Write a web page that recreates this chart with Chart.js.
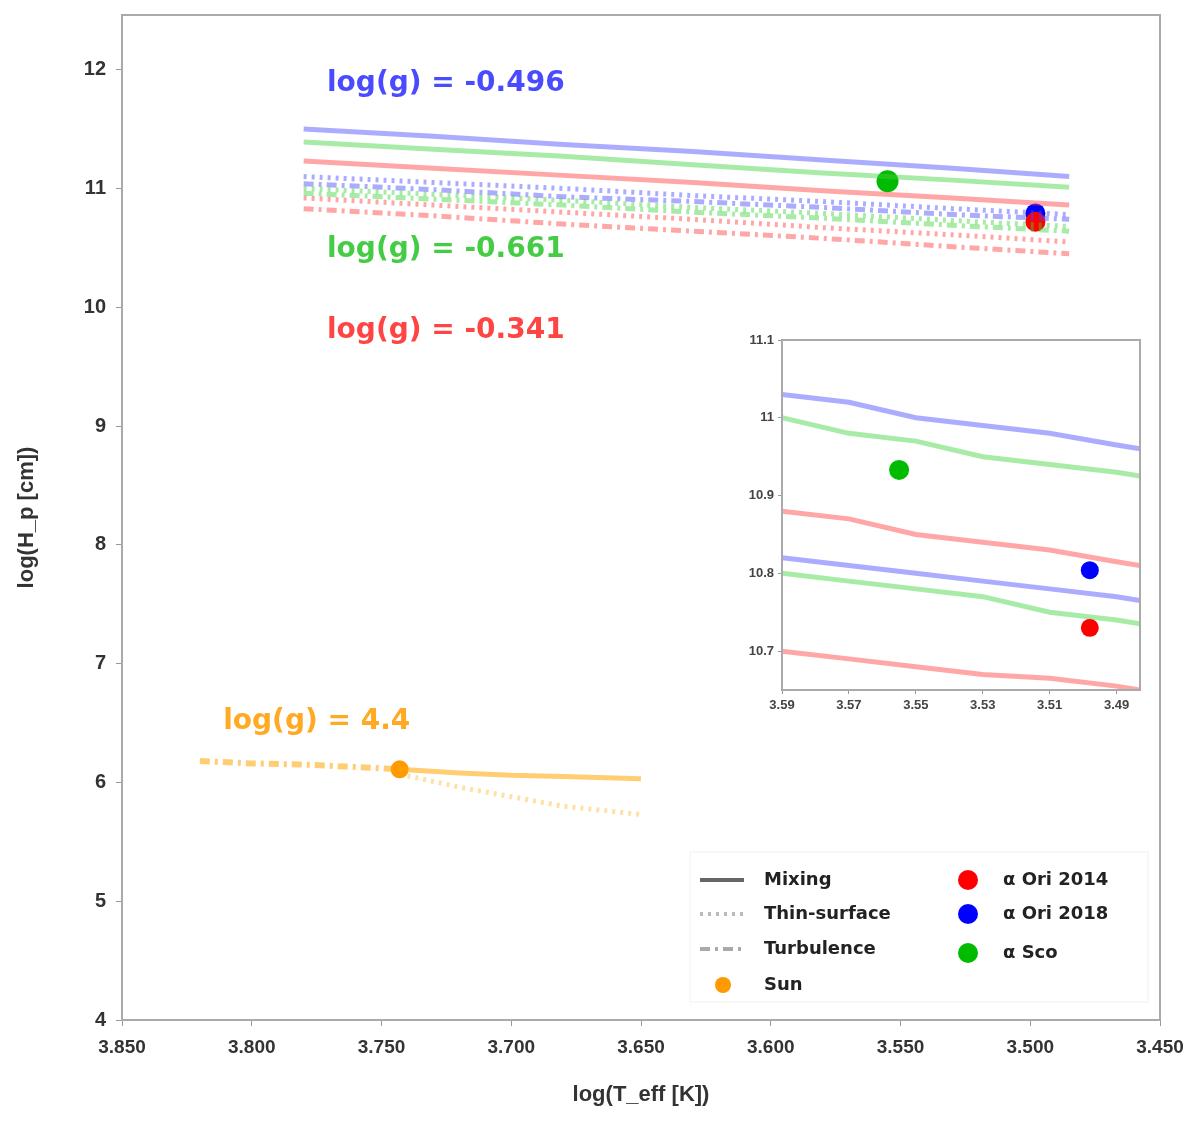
<!DOCTYPE html>
<html>
<head>
<meta charset="utf-8">
<script src="https://cdn.jsdelivr.net/npm/chart.js@4/dist/chart.umd.min.js"></script>
<style>
  body { margin: 0; background: #fff; }
  #wrap { position: relative; width: 1200px; height: 1128px; }
  #main { position: absolute; left: 0; top: 0; }
  #inset { position: absolute; left: 720px; top: 330px; }
</style>
</head>
<body>
<div id="wrap">
  <canvas id="main" width="1200" height="1128"></canvas>
  <canvas id="inset" width="430" height="395"></canvas>
</div>
<script>
// main panel data
const xTicks = [3.85, 3.80, 3.75, 3.70, 3.65, 3.60, 3.55, 3.50, 3.45];
const yTicks = [4, 5, 6, 7, 8, 9, 10, 11, 12];

const superX = [3.78, 3.73, 3.68, 3.63, 3.58, 3.53, 3.485];
const blueMixing = [11.50, 11.44, 11.37, 11.31, 11.24, 11.17, 11.10];
const blueThin = [11.10, 11.05, 11.00, 10.94, 10.89, 10.83, 10.78];
const blueTurb = [11.04, 10.99, 10.93, 10.89, 10.84, 10.78, 10.74];
const greenMixing = [11.39, 11.33, 11.27, 11.20, 11.13, 11.07, 11.01];
const greenThin = [11.00, 10.95, 10.90, 10.84, 10.79, 10.73, 10.68];
const greenTurb = [10.96, 10.91, 10.86, 10.80, 10.75, 10.69, 10.64];
const redMixing = [11.23, 11.17, 11.11, 11.05, 10.98, 10.92, 10.86];
const redThin = [10.92, 10.86, 10.80, 10.74, 10.67, 10.61, 10.55];
const redTurb = [10.83, 10.77, 10.70, 10.64, 10.58, 10.51, 10.45];

const sunLeftX = [3.82, 3.80, 3.78, 3.76, 3.743];
const sunTurb = [6.18, 6.16, 6.15, 6.13, 6.11];
const sunRightX = [3.743, 3.72, 3.70, 3.68, 3.65];
const sunMixing = [6.11, 6.08, 6.06, 6.05, 6.03];
const sunThin = [6.07, 5.96, 5.88, 5.80, 5.73];

const stars = [
  { name: 'Sun', x: 3.743, y: 6.11, color: '#ff9900' },
  { name: 'α Sco', x: 3.555, y: 11.06, color: '#00bb00' },
  { name: 'α Ori 2014', x: 3.498, y: 10.72, color: '#ff0000' },
  { name: 'α Ori 2018', x: 3.498, y: 10.79, color: '#0000ff' },
];

const groupLabels = [
  { text: 'log(g) = -0.496', x: 3.771, y: 11.88, color: '#4a4aff' },
  { text: 'log(g) = -0.661', x: 3.771, y: 10.48, color: '#44cc44' },
  { text: 'log(g) = -0.341', x: 3.771, y: 9.80, color: '#ff4444' },
  { text: 'log(g) = 4.4', x: 3.811, y: 6.51, color: '#ffaa22' },
];

// inset data
const insetX = [3.59, 3.57, 3.55, 3.53, 3.51, 3.49, 3.483];
const insetXTicks = [3.59, 3.57, 3.55, 3.53, 3.51, 3.49];
const insetYTicks = [10.7, 10.8, 10.9, 11.0, 11.1];
const insetBlueTop = [11.03, 11.02, 11.00, 10.99, 10.98, 10.965, 10.96];
const insetGreenTop = [11.00, 10.98, 10.97, 10.95, 10.94, 10.93, 10.925];
const insetRedMid = [10.88, 10.87, 10.85, 10.84, 10.83, 10.815, 10.81];
const insetBlueMid = [10.82, 10.81, 10.80, 10.79, 10.78, 10.77, 10.765];
const insetGreenMid = [10.80, 10.79, 10.78, 10.77, 10.75, 10.74, 10.735];
const insetRedLow = [10.70, 10.69, 10.68, 10.67, 10.665, 10.655, 10.65];

const BLUE = 'rgba(70,70,255,0.45)';
const GREEN = 'rgba(60,210,60,0.45)';
const RED = 'rgba(255,60,60,0.45)';
const ORANGE = 'rgba(255,165,0,0.55)';
const SOLID = [];
const DOTTED = [3, 5];
const DASHDOT = [10, 5, 3, 5];

function line(xs, ys, color, dash, width) {
  return {
    data: xs.map((x, i) => ({ x: x, y: ys[i] })),
    showLine: true,
    borderColor: color,
    borderDash: dash,
    borderWidth: width,
    pointRadius: 0,
    fill: false,
  };
}

function dot(s, r) {
  return {
    data: [{ x: s.x, y: s.y }],
    pointRadius: r,
    backgroundColor: s.color,
    borderWidth: 0,
    showLine: false,
  };
}

const framePlugin = {
  id: 'frame',
  afterDraw(chart) {
    const a = chart.chartArea, ctx = chart.ctx;
    ctx.save();
    ctx.strokeStyle = '#aaa';
    ctx.lineWidth = 2;
    ctx.strokeRect(a.left, a.top, a.right - a.left, a.bottom - a.top);
    ctx.restore();
  }
};

const whiteBg = {
  id: 'whiteBg',
  beforeDraw(chart) {
    const ctx = chart.ctx;
    ctx.save();
    ctx.fillStyle = '#fff';
    ctx.fillRect(0, 0, chart.width, chart.height);
    ctx.restore();
  }
};

const textPlugin = {
  id: 'texts',
  afterDatasetsDraw(chart) {
    const ctx = chart.ctx, sx = chart.scales.x, sy = chart.scales.y;
    ctx.save();
    ctx.font = 'bold 28px "DejaVu Sans"';
    ctx.textBaseline = 'middle';
    ctx.textAlign = 'left';
    groupLabels.forEach(l => {
      ctx.fillStyle = l.color;
      ctx.fillText(l.text, sx.getPixelForValue(l.x), sy.getPixelForValue(l.y));
    });
    ctx.restore();
  }
};

const legendPlugin = {
  id: 'customLegend',
  afterDraw(chart) {
    const ctx = chart.ctx;
    ctx.save();
    ctx.strokeStyle = 'rgba(0,0,0,0.06)';
    ctx.lineWidth = 1;
    ctx.strokeRect(690, 852, 458, 150);
    ctx.font = 'bold 18px "DejaVu Sans"';
    ctx.textBaseline = 'middle';
    const lines = [
      { label: 'Mixing', dash: SOLID, color: '#666', y: 880 },
      { label: 'Thin-surface', dash: DOTTED, color: '#bbb', y: 914 },
      { label: 'Turbulence', dash: DASHDOT, color: '#aaa', y: 949 },
    ];
    lines.forEach(l => {
      ctx.strokeStyle = l.color;
      ctx.lineWidth = 4;
      ctx.setLineDash(l.dash);
      ctx.beginPath();
      ctx.moveTo(700, l.y);
      ctx.lineTo(744, l.y);
      ctx.stroke();
      ctx.setLineDash([]);
      ctx.fillStyle = '#222';
      ctx.fillText(l.label, 764, l.y);
    });
    const marks = [
      { s: stars[0], mx: 723, tx: 764, y: 985 },
      { s: stars[2], mx: 968, tx: 1003, y: 880 },
      { s: stars[3], mx: 968, tx: 1003, y: 914 },
      { s: stars[1], mx: 968, tx: 1003, y: 953 },
    ];
    marks.forEach(m => {
      ctx.fillStyle = m.s.color;
      ctx.beginPath();
      ctx.arc(m.mx, m.y, m.s.name === 'Sun' ? 8 : 10, 0, Math.PI * 2);
      ctx.fill();
      ctx.fillStyle = '#222';
      ctx.fillText(m.s.name, m.tx, m.y);
    });
    ctx.restore();
  }
};

new Chart(document.getElementById('main'), {
  type: 'scatter',
  data: {
    datasets: [
      line(superX, redMixing, RED, SOLID, 5),
      line(superX, redThin, RED, DOTTED, 5),
      line(superX, redTurb, RED, DASHDOT, 5),
      line(superX, greenMixing, GREEN, SOLID, 5),
      line(superX, greenThin, GREEN, DOTTED, 5),
      line(superX, greenTurb, GREEN, DASHDOT, 5),
      line(superX, blueMixing, BLUE, SOLID, 5),
      line(superX, blueThin, BLUE, DOTTED, 5),
      line(superX, blueTurb, BLUE, DASHDOT, 5),
      line(sunLeftX, sunTurb, ORANGE, DASHDOT, 6),
      line(sunRightX, sunMixing, ORANGE, SOLID, 5),
      line(sunRightX, sunThin, 'rgba(255,165,0,0.35)', DOTTED, 5),
      dot(stars[1], 11),
      dot(stars[2], 10),
      dot(stars[3], 10),
      dot(stars[0], 9),
    ]
  },
  options: {
    responsive: false,
    animation: false,
    layout: { padding: { left: 0, top: 15, right: 40, bottom: 0 } },
    plugins: { legend: { display: false }, tooltip: { enabled: false } },
    scales: {
      x: {
        type: 'linear',
        reverse: true,
        min: 3.45,
        max: 3.85,
        afterBuildTicks: a => { a.ticks = xTicks.map(v => ({ value: v })); },
        afterFit: s => { s.height = 108; s.paddingLeft = 0; s.paddingRight = 0; },
        ticks: { callback: v => v.toFixed(3), font: { size: 19, weight: 'bold' }, color: '#333', maxRotation: 0, padding: 10 },
        grid: { drawOnChartArea: false, tickLength: 6, color: '#999' },
        border: { color: '#aaa', width: 2 },
        title: { display: true, text: 'log(T_eff [K])', font: { size: 22, weight: 'bold' }, color: '#333', padding: { top: 4, bottom: 20 } },
      },
      y: {
        type: 'linear',
        min: 4,
        max: 12.46,
        afterBuildTicks: a => { a.ticks = yTicks.map(v => ({ value: v })); },
        afterFit: s => { s.width = 122; s.paddingTop = 0; s.paddingBottom = 0; },
        ticks: { font: { size: 20, weight: 'bold' }, color: '#333', padding: 10 },
        grid: { drawOnChartArea: false, tickLength: 6, color: '#999' },
        border: { color: '#aaa', width: 2 },
        title: { display: true, text: 'log(H_p [cm])', font: { size: 22, weight: 'bold' }, color: '#333', padding: { top: 14, bottom: 0 } },
      }
    }
  },
  plugins: [framePlugin, textPlugin, legendPlugin]
});

new Chart(document.getElementById('inset'), {
  type: 'scatter',
  data: {
    datasets: [
      line(insetX, insetRedLow, RED, SOLID, 5),
      line(insetX, insetGreenMid, GREEN, SOLID, 5),
      line(insetX, insetBlueMid, BLUE, SOLID, 5),
      line(insetX, insetRedMid, RED, SOLID, 5),
      line(insetX, insetGreenTop, GREEN, SOLID, 5),
      line(insetX, insetBlueTop, BLUE, SOLID, 5),
      dot({ x: 3.555, y: 10.933, color: '#00bb00' }, 10),
      dot({ x: 3.498, y: 10.804, color: '#0000ff' }, 9),
      dot({ x: 3.498, y: 10.73, color: '#ff0000' }, 9),
    ]
  },
  options: {
    responsive: false,
    animation: false,
    layout: { padding: { left: 0, top: 10, right: 8, bottom: 0 } },
    plugins: { legend: { display: false }, tooltip: { enabled: false } },
    scales: {
      x: {
        type: 'linear',
        reverse: true,
        min: 3.483,
        max: 3.59,
        afterBuildTicks: a => { a.ticks = insetXTicks.map(v => ({ value: v })); },
        afterFit: s => { s.height = 35; s.paddingLeft = 0; s.paddingRight = 0; },
        ticks: { callback: v => v.toFixed(2), font: { size: 13, weight: 'bold' }, color: '#444', maxRotation: 0, padding: 4 },
        grid: { drawOnChartArea: false, tickLength: 4, color: '#999' },
        border: { color: '#aaa', width: 2 },
      },
      y: {
        type: 'linear',
        min: 10.65,
        max: 11.1,
        afterBuildTicks: a => { a.ticks = insetYTicks.map(v => ({ value: v })); },
        afterFit: s => { s.width = 62; s.paddingTop = 0; s.paddingBottom = 0; },
        ticks: { callback: v => String(+v.toFixed(1)), font: { size: 13, weight: 'bold' }, color: '#444', padding: 4 },
        grid: { drawOnChartArea: false, tickLength: 4, color: '#999' },
        border: { color: '#aaa', width: 2 },
      }
    }
  },
  plugins: [whiteBg, framePlugin]
});
</script>
</body>
</html>
